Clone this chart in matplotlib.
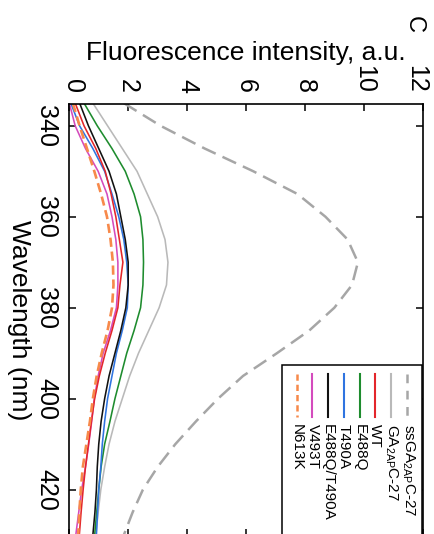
import matplotlib
matplotlib.use("Agg")
import matplotlib.pyplot as plt
from matplotlib.lines import Line2D
from matplotlib.patches import Rectangle
from matplotlib.transforms import ScaledTranslation

plt.rcParams['font.family'] = ['Liberation Sans', 'DejaVu Sans']
plt.rcParams['mathtext.fontset'] = 'custom'
plt.rcParams['mathtext.rm'] = 'Liberation Sans'
plt.rcParams['mathtext.it'] = 'Liberation Sans'
plt.rcParams['mathtext.bf'] = 'Liberation Sans'

# ---------------- data ----------------
wavelength = [335, 340, 345, 350, 355, 360, 365, 370, 375, 380,
              385, 390, 395, 400, 405, 410, 415, 420, 425, 430]

ssGA = [1.85, 3.10, 4.60, 6.25, 7.75, 8.70, 9.45, 9.80, 9.60, 9.00,
        8.15, 7.05, 5.90, 5.05, 4.30, 3.60, 3.00, 2.50, 2.15, 1.85]
GA = [0.80, 1.30, 1.80, 2.30, 2.65, 3.00, 3.25, 3.35, 3.30, 3.05,
      2.70, 2.35, 2.05, 1.80, 1.55, 1.35, 1.20, 1.07, 0.98, 0.90]
WT = [0.20, 0.50, 0.90, 1.22, 1.42, 1.58, 1.70, 1.82, 1.72, 1.65,
      1.45, 1.22, 1.02, 0.86, 0.75, 0.65, 0.55, 0.47, 0.40, 0.34]
E488Q = [0.50, 0.95, 1.45, 1.90, 2.20, 2.42, 2.50, 2.52, 2.50, 2.42,
         2.20, 1.95, 1.75, 1.55, 1.38, 1.20, 1.08, 1.00, 0.93, 0.86]
T490A = [0.05, 0.35, 0.80, 1.20, 1.45, 1.68, 1.85, 1.95, 2.00, 1.97,
         1.80, 1.60, 1.45, 1.30, 1.20, 1.12, 1.07, 1.00, 0.96, 0.92]
E488Q_T490A = [0.35, 0.65, 1.00, 1.35, 1.60, 1.75, 1.90, 2.00, 2.00, 1.92,
               1.75, 1.55, 1.35, 1.20, 1.08, 1.00, 0.95, 0.92, 0.87, 0.80]
V493T = [0.00, 0.20, 0.55, 0.98, 1.28, 1.45, 1.58, 1.65, 1.65, 1.60,
         1.40, 1.15, 0.98, 0.85, 0.76, 0.66, 0.55, 0.42, 0.32, 0.22]
N613K = [0.12, 0.35, 0.60, 0.85, 1.08, 1.28, 1.40, 1.48, 1.50, 1.45,
         1.30, 1.10, 0.93, 0.80, 0.70, 0.58, 0.46, 0.39, 0.34, 0.30]

labels = [r'ssGA$_{\mathrm{2AP}}$C-27', r'GA$_{\mathrm{2AP}}$C-27', 'WT', 'E488Q',
          'T490A', 'E488Q/T490A', 'V493T', 'N613K']
series = [ssGA, GA, WT, E488Q, T490A, E488Q_T490A, V493T, N613K]
colors = ['#a6a6a6', '#b9b9b9', '#e3262b', '#1e8c2e', '#2f74e0', '#111111',
          '#d44bbd', '#f7894a']
styles = ['dash', 'solid', 'solid', 'solid', 'solid', 'solid', 'solid', 'odash']

intensity_ticks = [0, 2, 4, 6, 8, 10, 12]
wavelength_ticks = [340, 360, 380, 400, 420]

# ---------------- figure ----------------
W, H = 435, 534
fig = plt.figure(figsize=(W / 100, H / 100), dpi=100)

def fx(px):
    return px / W

def fy(py):
    return 1 - py / H

ax_l, ax_r, ax_t, ax_b = 69.3, 422.7, 104.0, 536.0
ax = fig.add_axes([fx(ax_l), fy(ax_b), fx(ax_r) - fx(ax_l), fy(ax_t) - fy(ax_b)])

draw_order = [0, 1, 3, 4, 5, 6, 2, 7]
for i in draw_order:
    st = styles[i]
    if st == 'dash':
        ln, = ax.plot(series[i], wavelength, color=colors[i], lw=1.8)
        ln.set_dashes((6, 3))
    elif st == 'odash':
        ln, = ax.plot(series[i], wavelength, color=colors[i], lw=1.9)
        ln.set_dashes((3.5, 1.8))
    else:
        ax.plot(series[i], wavelength, color=colors[i], lw=1.15)

ax.set_xlim(0, 12)
ax.set_ylim(430.2, 335.2)
ax.set_xticks(intensity_ticks)
ax.set_yticks(wavelength_ticks)
ax.set_xticklabels([str(v) for v in intensity_ticks], rotation=-90)
ax.set_yticklabels([str(v) for v in wavelength_ticks], rotation=-90, va='center')
ax.tick_params(axis='both', direction='in', length=5, width=1.1, labelsize=18,
               top=True, bottom=True, left=True, right=True,
               labeltop=True, labelbottom=False, labelleft=True, labelright=False,
               pad=8)
for sp in ax.spines.values():
    sp.set_linewidth(1.2)

# edge tick labels sit slightly inward in the reference
top_labels = [t.label2 for t in ax.xaxis.get_major_ticks()]
top_labels[0].set_transform(top_labels[0].get_transform() +
                            ScaledTranslation(4 / 100, 0, fig.dpi_scale_trans))
top_labels[-1].set_transform(top_labels[-1].get_transform() +
                             ScaledTranslation(-7 / 100, 0, fig.dpi_scale_trans))

ax.xaxis.set_label_position('top')
ax.set_xlabel('Fluorescence intensity, a.u.', fontsize=19)
ax.xaxis.set_label_coords(0.5, (ax_b - 60) / (ax_b - ax_t))
ax.set_ylabel('Wavelength (nm)', fontsize=19, rotation=-90, va='center', ha='center')
ax.yaxis.set_label_coords((19 - ax_l) / (ax_r - ax_l), 0.5)

fig.text(fx(414), fy(24), 'C', fontsize=17, rotation=-90, ha='center', va='center')

# ---------------- legend (rotated) ----------------
box = Rectangle((fx(281.7), -0.02), fx(421.7) - fx(281.7), fy(365) + 0.02,
                transform=fig.transFigure, facecolor='white', edgecolor='black',
                lw=1.1, zorder=5)
fig.add_artist(box)
for i in range(len(labels)):
    x = 406.7 - i * 15.7
    st = styles[i]
    ln = Line2D([fx(x), fx(x)], [fy(374), fy(417)], transform=fig.transFigure,
                color=colors[i], lw=1.8 if st != 'solid' else 1.5, zorder=6)
    if st == 'dash':
        ln.set_dashes((3.5, 3))
    elif st == 'odash':
        ln.set_dashes((2.5, 1.6))
    fig.add_artist(ln)
    tx = x + 1.5 if i == 0 else x
    fig.text(fx(tx), fy(424), labels[i], fontsize=11, rotation=-90,
             ha='center', va='top', zorder=6)

fig.savefig('out.png', dpi=100)
